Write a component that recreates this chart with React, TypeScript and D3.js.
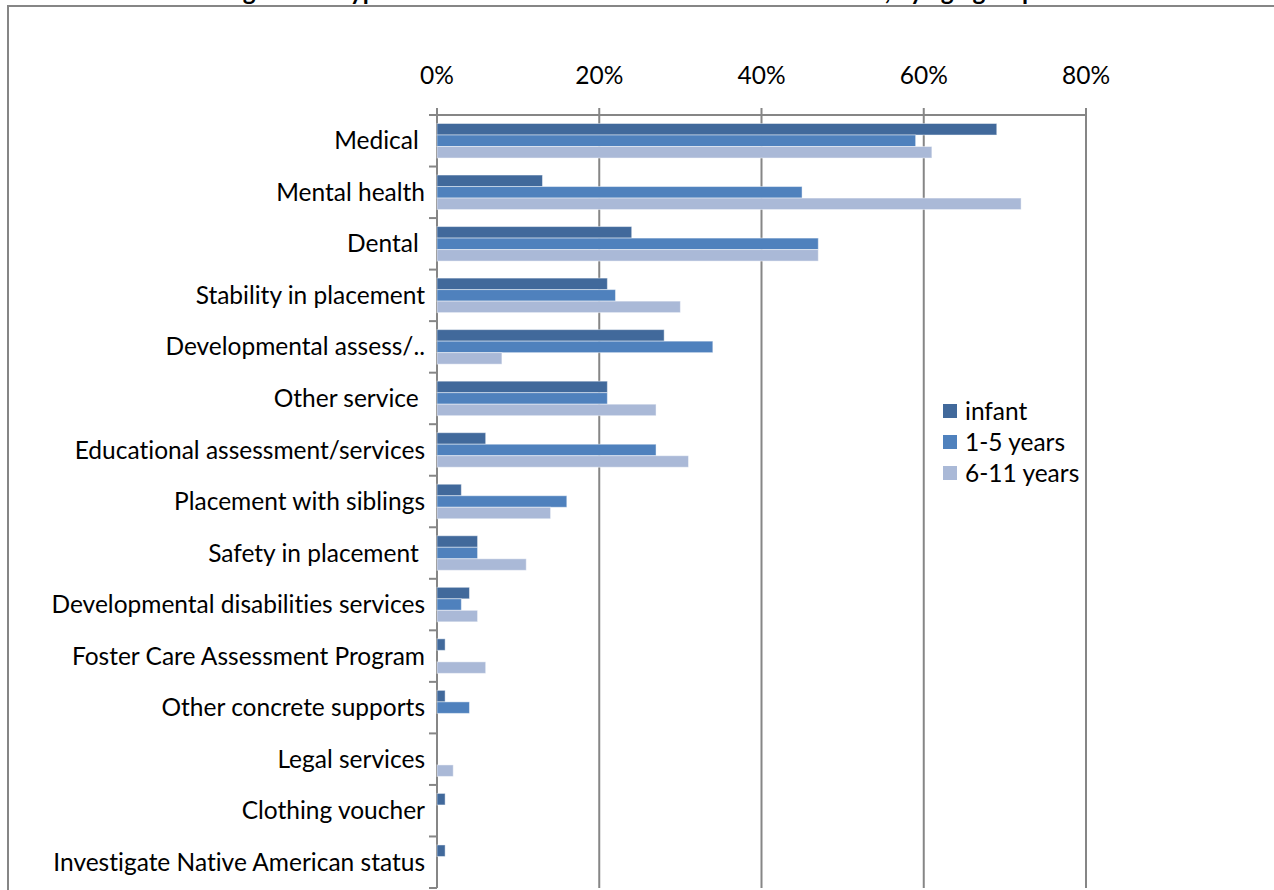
import React, { useEffect, useRef } from "react";
import * as d3 from "d3";

const categories = [
  "Medical ",
  "Mental health",
  "Dental ",
  "Stability in placement",
  "Developmental assess/..",
  "Other service ",
  "Educational assessment/services",
  "Placement with siblings",
  "Safety in placement ",
  "Developmental disabilities services",
  "Foster Care Assessment Program",
  "Other concrete supports",
  "Legal services",
  "Clothing voucher",
  "Investigate Native American status",
];

const seriesNames = ["infant", "1-5 years", "6-11 years"];
const infant = [69, 13, 24, 21, 28, 21, 6, 3, 5, 4, 1, 1, 0, 1, 1];
const age1to5 = [59, 45, 47, 22, 34, 21, 27, 16, 5, 3, 0, 4, 0, 0, 0];
const age6to11 = [61, 72, 47, 30, 8, 27, 31, 14, 11, 5, 6, 0, 2, 0, 0];
const seriesValues = [infant, age1to5, age6to11];
const seriesColors = ["#41699B", "#4F81BD", "#AAB9D7"];
const xTicks = [0, 20, 40, 60, 80];
const titleText =
  "Figure 12: Types of services recommended at the initial exam, by age group";

const FONT = "Lato, 'Open Sans', sans-serif";
const FS = 24.5;
const GRID = "#868686";

export default function App() {
  const ref = useRef<SVGSVGElement | null>(null);

  useEffect(() => {
    const svg = d3.select(ref.current);
    svg.selectAll("*").remove();

    const left = 437;
    const right = 1086;
    const top = 115;
    const bottom = 888;

    const x = d3.scaleLinear().domain([0, 80]).range([left, right]);
    const y = d3
      .scaleBand<string>()
      .domain(categories)
      .range([top, bottom])
      .paddingInner(0.33)
      .paddingOuter(0.165);
    const sub = d3
      .scaleBand<string>()
      .domain(seriesNames)
      .range([0, y.bandwidth()]);

    // Title (cut off at top, as in the source)
    svg
      .append("text")
      .attr("x", 1036)
      .attr("y", 0)
      .attr("text-anchor", "end")
      .attr("font-family", FONT)
      .attr("font-weight", "bold")
      .attr("font-size", FS)
      .attr("fill", "#000")
      .text(titleText);

    // Frame
    svg
      .append("path")
      .attr("d", `M8,${900} L8,6 L1290,6`)
      .attr("fill", "none")
      .attr("stroke", GRID)
      .attr("stroke-width", 2);

    // Vertical gridlines
    svg
      .append("g")
      .selectAll("line")
      .data(xTicks)
      .join("line")
      .attr("x1", (d) => x(d))
      .attr("x2", (d) => x(d))
      .attr("y1", top - 7)
      .attr("y2", bottom)
      .attr("stroke", GRID)
      .attr("stroke-width", 2);

    // Top axis line
    svg
      .append("line")
      .attr("x1", left)
      .attr("x2", right)
      .attr("y1", top)
      .attr("y2", top)
      .attr("stroke", GRID)
      .attr("stroke-width", 2);

    // Left axis ticks at category boundaries
    const step = y.step();
    const boundaries = d3.range(categories.length + 1).map((i) => top + i * step);
    svg
      .append("g")
      .selectAll("line")
      .data(boundaries)
      .join("line")
      .attr("x1", left - 8)
      .attr("x2", left)
      .attr("y1", (d) => d)
      .attr("y2", (d) => d)
      .attr("stroke", GRID)
      .attr("stroke-width", 2);

    // Tick labels
    svg
      .append("g")
      .selectAll("text")
      .data(xTicks)
      .join("text")
      .attr("x", (d) => x(d))
      .attr("y", 75)
      .attr("dy", "0.35em")
      .attr("text-anchor", "middle")
      .attr("font-family", FONT)
      .attr("font-size", FS)
      .attr("fill", "#000")
      .text((d) => `${d}%`);

    // Category labels
    svg
      .append("g")
      .selectAll("text")
      .data(categories)
      .join("text")
      .attr("x", 425)
      .attr("y", (d) => (y(d) as number) + y.bandwidth() / 2)
      .attr("dy", "0.35em")
      .attr("text-anchor", "end")
      .attr("font-family", FONT)
      .attr("font-size", FS)
      .attr("fill", "#000")
      .style("white-space", "pre")
      .style("font-variant-ligatures", "none")
      .text((d) => d);

    // Bars
    seriesNames.forEach((name, si) => {
      svg
        .append("g")
        .selectAll("rect")
        .data(seriesValues[si].map((v, i) => ({ v, c: categories[i] })))
        .join("rect")
        .filter((d) => d.v > 0)
        .attr("x", x(0))
        .attr("y", (d) => (y(d.c) as number) + (sub(name) as number))
        .attr("width", (d) => x(d.v) - x(0))
        .attr("height", sub.bandwidth())
        .attr("fill", seriesColors[si])
        .attr("stroke", "rgba(255,255,255,0.45)")
        .attr("stroke-width", 1);
    });

    // Legend
    const legend = svg.append("g");
    seriesNames.forEach((name, i) => {
      const cy = 411 + i * 31;
      legend
        .append("rect")
        .attr("x", 943)
        .attr("y", cy - 7)
        .attr("width", 14)
        .attr("height", 14)
        .attr("fill", seriesColors[i]);
      legend
        .append("text")
        .attr("x", 965)
        .attr("y", cy)
        .attr("dy", "0.35em")
        .attr("font-family", FONT)
        .attr("font-size", FS)
        .attr("fill", "#000")
        .text(name);
    });
  }, []);

  return (
    <svg
      ref={ref}
      width={1274}
      height={890}
      style={{ position: "absolute", left: 0, top: 0, display: "block", background: "#fff" }}
    />
  );
}
